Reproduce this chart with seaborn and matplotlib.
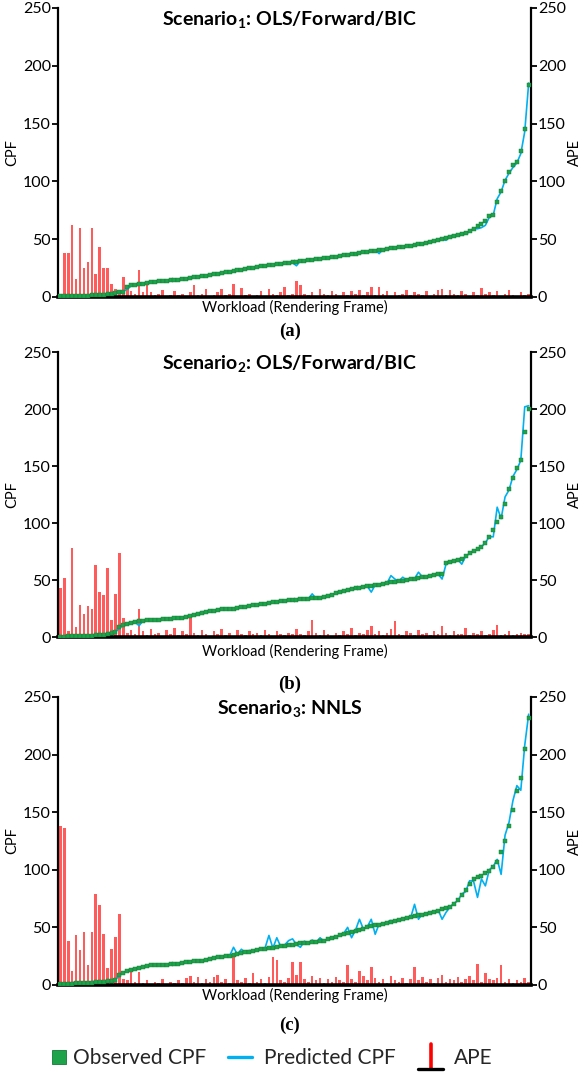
import numpy as np
import pandas as pd
import matplotlib
matplotlib.use("Agg")
import matplotlib.pyplot as plt
import seaborn as sns
from matplotlib.lines import Line2D
from matplotlib.patches import Rectangle
from matplotlib.legend_handler import HandlerBase

# ---------------- data ----------------
N = 120
frames = list(range(N))

obs_a = [0.5,0.6,0.7,0.8,0.9,1.0,1.1,1.2,1.3,1.5,
         1.7,2.0,2.5,3.0,3.5,4.0,4.5,9.0,10.0,10.5,
         11.0,11.5,12.5,13.0,13.3,13.6,13.9,14.2,14.5,14.8,
         15.1,15.5,16.0,16.5,17.0,17.5,18.0,18.5,19.0,19.5,
         20.0,20.6,21.2,21.8,22.4,23.0,23.6,24.2,25.0,25.5,
         26.0,26.5,27.0,27.4,27.8,28.2,28.6,29.0,29.5,30.0,
         30.5,31.0,31.4,31.8,32.2,32.6,33.0,33.5,34.0,34.5,
         35.0,35.5,36.0,36.5,37.0,37.5,38.0,38.5,39.0,39.5,
         40.0,40.5,41.0,41.5,42.0,42.5,43.0,43.5,44.0,44.5,
         45.0,45.5,46.0,47.0,48.0,48.5,49.5,50.5,51.0,52.0,
         53.0,54.0,54.5,55.0,57.0,59.0,61.0,63.0,66.0,70.0,
         71.0,82.0,92.0,100.0,108.0,114.0,117.0,126.0,145.0,183.0]
pred_a = [0.6,0.7,0.8,0.9,1.0,1.1,1.2,1.3,1.4,1.6,
          1.8,2.1,2.6,3.1,3.6,4.1,4.6,7.0,9.5,10.6,
          11.1,11.6,12.4,13.2,13.2,13.8,13.8,14.3,14.4,14.9,
          15.0,15.7,15.8,16.6,16.9,17.7,17.8,18.6,18.8,19.7,
          19.8,20.9,20.8,22.2,22.0,23.4,22.9,24.6,24.3,25.8,
          26.2,26.3,27.3,27.2,28.0,27.9,28.9,28.8,29.8,29.6,
          27.0,31.3,31.2,32.2,31.9,32.9,33.2,33.3,34.4,34.2,
          35.3,35.2,36.4,36.2,37.3,37.2,38.4,38.3,39.4,39.2,
          40.6,37.5,41.4,41.3,42.4,42.2,43.5,43.2,44.6,44.1,
          45.6,45.2,46.5,46.6,48.6,48.0,50.2,50.0,49.0,52.6,
          53.8,53.6,55.2,54.6,56.4,59.6,59.0,60.0,62.0,69.0,
          71.0,85.0,91.0,101.0,107.0,112.0,116.0,124.0,143.0,185.0]
ape_a = [2,38,38,62,16,60,25,30,60,20,
         43,25,25,11,7,4,17,8,5,3,
         23,4,10,4,2,3,6,1,2,5,
         2,3,1,4,10,2,3,7,1,2,
         4,7,2,3,11,1,8,2,3,1,
         2,5,1,7,3,2,4,9,2,3,
         14,10,3,2,4,1,7,3,2,5,
         3,1,4,2,5,3,6,2,4,9,
         2,9,3,5,1,4,2,3,6,2,
         4,3,2,5,1,3,6,7,2,6,
         3,2,5,3,1,4,2,8,3,4,
         2,5,1,3,6,2,1,4,2,3]

obs_b = [0.5,0.6,0.7,0.8,0.9,1.0,1.1,1.2,1.4,1.6,
         1.9,2.3,2.8,3.5,4.5,9.0,10.5,11.5,12.5,13.3,
         14.0,14.3,14.7,15.0,15.3,15.5,15.8,16.0,16.3,16.5,
         16.8,17.0,17.6,18.3,19.2,20.2,21.0,21.8,22.6,23.3,
         24.0,24.3,24.6,24.8,25.0,25.6,26.2,26.8,27.5,28.0,
         28.5,29.0,29.5,30.0,30.5,31.0,31.5,32.0,32.3,32.6,
         33.0,33.3,33.6,33.9,34.2,34.5,34.8,35.0,36.0,37.2,
         38.4,39.5,40.4,41.3,42.2,43.0,43.5,44.0,44.5,45.0,
         45.6,46.2,46.8,47.4,48.0,48.5,49.0,49.5,50.0,50.6,
         51.2,51.8,52.6,53.2,53.8,54.4,55.0,55.5,65.0,66.0,
         67.0,68.0,69.0,71.0,73.5,75.5,77.0,79.0,83.0,88.0,
         94.0,101.0,105.0,117.0,130.0,140.0,148.0,155.0,180.0,200.0]
pred_b = [0.6,0.7,0.8,0.9,1.0,1.1,1.2,1.3,1.5,1.7,
          2.0,2.4,2.9,3.6,4.4,8.0,10.3,11.6,12.4,13.4,
          10.0,14.4,14.6,15.2,15.2,15.7,15.7,16.2,16.2,16.7,
          16.7,17.2,17.5,18.5,19.1,20.4,22.5,21.6,24.0,23.2,
          24.2,24.2,24.8,24.7,25.2,25.5,26.4,26.7,27.7,27.9,
          28.7,28.9,30.0,29.9,30.7,30.9,31.7,31.9,33.0,32.5,
          33.2,33.2,33.8,33.8,38.0,33.6,35.0,34.9,36.2,37.1,
          38.6,39.4,40.6,41.2,42.4,42.9,43.7,43.9,44.7,39.5,
          45.8,46.1,47.0,47.3,54.0,51.0,49.2,52.6,50.2,50.5,
          51.4,57.0,52.8,53.1,54.0,54.3,55.2,51.0,64.0,66.2,
          66.8,68.2,64.0,71.2,73.3,75.7,76.8,79.2,82.8,88.2,
          88.0,114.0,104.0,123.0,129.0,141.0,147.0,155.0,202.0,203.0]
ape_b = [43,52,5,78,9,28,20,27,25,63,
         40,37,61,15,38,74,17,4,6,3,
         25,5,2,7,3,4,1,6,3,8,
         2,5,3,17,4,2,6,3,1,5,
         3,7,2,4,1,6,3,2,5,3,
         4,2,6,3,1,5,3,2,4,3,
         7,3,2,5,15,4,2,6,3,1,
         4,2,5,3,8,2,4,3,6,10,
         3,5,2,4,7,14,3,2,5,4,
         2,6,3,4,2,5,3,10,4,2,
         5,3,3,8,2,4,3,5,2,3,
         6,11,2,3,5,2,3,4,3,3]

obs_c = [0.5,0.7,0.9,1.1,1.3,1.5,1.7,1.9,2.1,2.4,
         2.7,3.0,3.4,3.8,4.3,8.7,10.5,12.0,13.0,14.0,
         14.8,15.5,16.2,17.0,17.1,17.2,17.3,17.4,17.8,18.2,
         18.6,19.0,19.5,20.0,20.5,20.8,21.0,21.8,22.5,23.2,
         24.0,24.5,25.0,25.5,26.0,26.8,27.5,28.2,29.0,29.6,
         30.2,30.8,31.4,32.0,32.5,33.0,33.5,34.0,34.5,35.0,
         35.6,36.0,36.4,36.8,37.2,37.6,38.0,38.5,39.6,40.8,
         42.0,43.0,44.0,45.0,46.0,47.0,48.0,49.0,50.0,51.0,
         51.7,52.4,53.1,53.8,54.4,55.3,56.2,57.1,58.0,58.8,
         59.6,60.3,61.0,61.9,62.8,63.7,64.5,65.5,66.5,68.0,
         70.0,74.0,78.0,82.0,88.0,92.0,93.5,95.0,97.0,99.0,
         102.0,106.5,115.0,125.0,138.0,152.0,168.0,180.0,205.0,232.0]
pred_c = [1.5,1.7,1.8,2.0,2.1,2.3,2.4,2.6,2.8,3.0,
          3.2,3.5,3.8,4.1,4.6,8.0,10.8,11.7,13.3,13.8,
          15.2,15.2,16.6,16.8,17.5,16.9,17.7,17.2,18.2,18.0,
          19.0,18.8,19.9,19.8,20.9,20.6,21.4,21.6,22.9,23.0,
          24.5,24.2,25.6,25.2,32.7,26.5,31.0,28.0,30.0,29.2,
          30.8,30.5,32.0,43.0,32.0,41.0,33.2,34.8,38.5,40.0,
          35.0,32.7,38.0,36.2,39.0,36.8,41.0,37.8,40.2,40.2,
          42.6,42.5,44.8,50.0,41.0,47.6,57.0,48.5,50.6,57.0,
          44.0,53.0,52.5,54.5,56.0,54.6,57.0,56.5,58.8,58.2,
          70.0,57.0,61.8,61.2,63.6,63.0,65.2,57.0,63.0,67.5,
          71.0,73.0,79.0,81.0,90.5,90.0,76.0,92.0,86.0,100.0,
          103.0,109.0,96.0,130.0,141.0,160.0,173.0,169.0,208.0,235.0]
ape_c = [138,136,38,12,43,30,46,17,46,79,
         69,44,15,31,42,62,5,4,13,3,
         11,2,4,1,3,2,5,1,3,2,
         4,2,6,8,3,7,2,5,3,7,
         9,3,5,2,25,4,3,6,2,10,
         3,5,2,7,24,22,4,3,6,20,
         9,20,5,3,8,4,6,2,5,3,
         7,4,3,17,5,3,12,8,4,16,
         6,3,5,2,8,4,3,6,2,5,
         16,4,7,3,5,2,6,9,3,5,
         4,7,3,5,8,4,18,3,10,5,
         4,6,17,3,5,2,4,3,6,3]

titles = [r"Scenario$_{\mathbf{1}}$: OLS/Forward/BIC",
          r"Scenario$_{\mathbf{2}}$: OLS/Forward/BIC",
          r"Scenario$_{\mathbf{3}}$: NNLS"]
letters = ["(a)", "(b)", "(c)"]
yticks = [0, 50, 100, 150, 200, 250]
legend_labels = ["Observed CPF", "Predicted CPF", "APE"]

panels = [(obs_a, pred_a, ape_a), (obs_b, pred_b, ape_b), (obs_c, pred_c, ape_c)]
for o, p, e in panels:
    assert len(o) == N and len(p) == N and len(e) == N

# ---------------- style ----------------
sns.set_theme(style="ticks")
plt.rcParams["font.family"] = ["Lato", "DejaVu Sans"]
plt.rcParams["mathtext.fontset"] = "custom"
plt.rcParams["mathtext.rm"] = "Lato"
plt.rcParams["mathtext.bf"] = "Lato:bold"

GREEN = "#1ea34b"
GREEN_EDGE = "#127a35"
BLUE = "#00b0f0"
RED = "#ff2424"

fig = plt.figure(figsize=(5.84, 10.8), dpi=100)
positions = [[0.0993, 0.725, 0.810, 0.2676],
             [0.0993, 0.410, 0.810, 0.264],
             [0.0993, 0.088, 0.810, 0.2667]]
letter_y = [-0.118, -0.165, -0.14]
xlabel_pad = [2, 5, 2]

for k, ((obs, pred, ape), pos) in enumerate(zip(panels, positions)):
    ax = fig.add_axes(pos)
    ax2 = ax.twinx()
    df = pd.DataFrame({"frame": frames, "obs": obs, "pred": pred, "ape": ape})

    sns.barplot(data=df, x="frame", y="ape", ax=ax2, native_scale=True,
                width=0.65, color=RED, saturation=1, alpha=0.75,
                errorbar=None, linewidth=0)
    sns.lineplot(data=df, x="frame", y="pred", ax=ax, color=BLUE, lw=1.2)
    sns.scatterplot(data=df, x="frame", y="obs", ax=ax, marker="s", s=10,
                    color=GREEN, edgecolor=GREEN_EDGE, linewidth=0.3, zorder=3)

    ax.set_zorder(ax2.get_zorder() + 1)
    ax.patch.set_visible(False)

    for a in (ax, ax2):
        a.set_ylim(0, 250)
        a.set_yticks(yticks)
        a.set_xlim(-0.6, N - 0.4)
        a.set_xticks([])
        a.spines["top"].set_visible(False)
    ax.spines["right"].set_visible(False)
    ax2.spines["left"].set_visible(False)
    ax2.spines["bottom"].set_visible(False)
    ax.spines["left"].set_linewidth(1.6)
    ax2.spines["right"].set_linewidth(1.6)
    ax.spines["bottom"].set_linewidth(2.6)
    for s in ("left", "bottom"):
        ax.spines[s].set_color("black")
    ax2.spines["right"].set_color("black")

    ax.tick_params(axis="y", direction="out", length=4, width=1.3,
                   labelsize=11.5, pad=1, colors="black", left=True)
    ax2.tick_params(axis="y", direction="out", length=4, width=1.3,
                    labelsize=11.5, pad=1, colors="black", right=True)

    ax.set_ylabel("CPF", fontsize=10.5, labelpad=3, color="black")
    ax2.set_ylabel("APE", fontsize=10.5, labelpad=1, color="black")
    ax.set_xlabel("Workload (Rendering Frame)", fontsize=10.5,
                  labelpad=xlabel_pad[k], color="black")

    ax.text(0.49, 0.958, titles[k], transform=ax.transAxes, ha="center",
            va="center", fontsize=14, fontweight="bold", color="black")
    ax.text(0.49, letter_y[k], letters[k], transform=ax.transAxes,
            ha="center", va="center", fontsize=13.5, fontweight="bold",
            family=["Liberation Serif", "DejaVu Serif"], color="black")


# ---------------- legend ----------------
class ObsHandler(HandlerBase):
    def create_artists(self, legend, orig_handle, xdescent, ydescent,
                       width, height, fontsize, trans):
        s = height * 0.95
        x0 = -xdescent + width - s
        y0 = -ydescent + (height - s) / 2
        return [Rectangle((x0, y0), s, s, facecolor=GREEN,
                          edgecolor=GREEN_EDGE, lw=0.6, transform=trans)]


class PredHandler(HandlerBase):
    def create_artists(self, legend, orig_handle, xdescent, ydescent,
                       width, height, fontsize, trans):
        ym = -ydescent + height / 2
        return [Line2D([-xdescent + 0.05 * width, -xdescent + 0.8 * width],
                       [ym, ym], color=BLUE, lw=2.4, transform=trans)]


class ApeHandler(HandlerBase):
    def create_artists(self, legend, orig_handle, xdescent, ydescent,
                       width, height, fontsize, trans):
        xa = -xdescent + 0.05 * width
        xb = -xdescent + 0.85 * width
        xm = (xa + xb) / 2
        yb = -ydescent - 0.35 * height
        yt = -ydescent + 1.4 * height
        stem = Line2D([xm, xm], [yb, yt], color="red", lw=2.6,
                      transform=trans)
        base = Line2D([xa, xb], [yb, yb], color="black", lw=2.4,
                      transform=trans)
        return [stem, base]


h_obs = Line2D([], [])
h_pred = Line2D([], [])
h_ape = Line2D([], [])
fig.legend([h_obs, h_pred, h_ape], legend_labels,
           loc="center", bbox_to_anchor=(0.452, 0.0204), ncol=3,
           frameon=False, fontsize=15, handlelength=1.5, handletextpad=0.3,
           columnspacing=1.0,
           handler_map={h_obs: ObsHandler(), h_pred: PredHandler(),
                        h_ape: ApeHandler()})

fig.savefig("out.png", dpi=100)
